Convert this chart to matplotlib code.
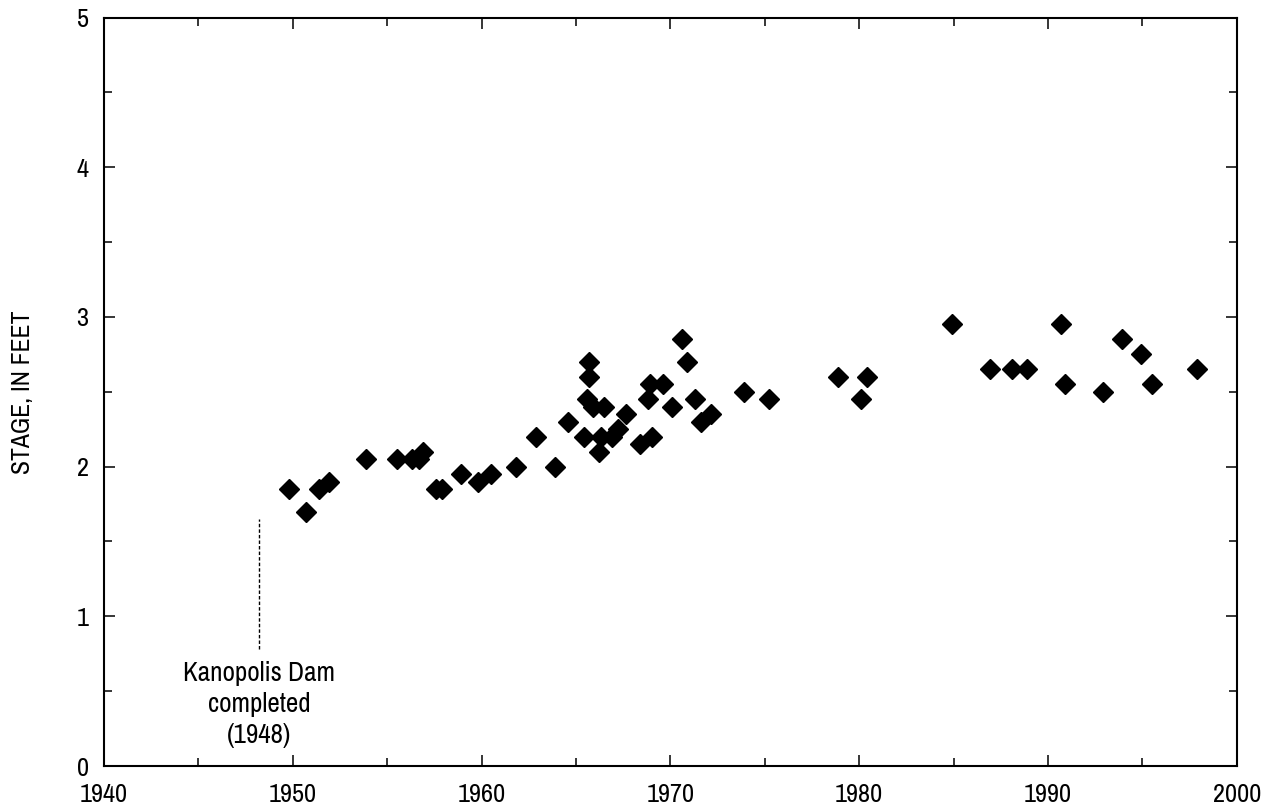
import matplotlib.pyplot as plt
from matplotlib import font_manager
from matplotlib.ticker import MultipleLocator

# Annual stage readings (year, stage in feet)
years = [1949.8, 1950.7, 1951.4, 1951.9, 1953.9, 1955.5, 1956.3, 1956.7, 1956.9,
         1957.6, 1957.9, 1958.9, 1959.8, 1960.5, 1961.8, 1962.9, 1963.9, 1964.6,
         1965.7, 1965.7, 1965.6, 1965.9, 1966.5, 1965.4, 1966.2, 1966.3, 1966.9,
         1967.2, 1967.65, 1968.4, 1969.0, 1968.8, 1968.9, 1969.6, 1970.1, 1970.6,
         1970.9, 1971.3, 1971.6, 1972.15, 1973.9, 1975.2, 1978.9, 1980.1, 1980.4,
         1984.9, 1986.9, 1988.1, 1988.9, 1990.7, 1990.9, 1992.9, 1993.9, 1994.9,
         1995.5, 1997.9]
stage = [1.85, 1.70, 1.85, 1.90, 2.05, 2.05, 2.05, 2.05, 2.10,
         1.85, 1.85, 1.95, 1.90, 1.95, 2.00, 2.20, 2.00, 2.30,
         2.70, 2.60, 2.45, 2.40, 2.40, 2.20, 2.10, 2.20, 2.20,
         2.25, 2.35, 2.15, 2.20, 2.45, 2.55, 2.55, 2.40, 2.85,
         2.70, 2.45, 2.30, 2.35, 2.50, 2.45, 2.60, 2.45, 2.60,
         2.95, 2.65, 2.65, 2.65, 2.95, 2.55, 2.50, 2.85, 2.75,
         2.55, 2.65]

dam_year = 1948.2
dam_text = "Kanopolis Dam\ncompleted\n(1948)"

# use a condensed face if one is around, otherwise DejaVu
names = sorted({f.name for f in font_manager.fontManager.ttflist})
narrow = [n for n in names if 'Narrow' in n or 'Condensed' in n]
plt.rcParams['font.family'] = narrow[:1] + ['DejaVu Sans']
tick_size = 19 if narrow else 16
text_size = 19.5 if narrow else 15
label_size = 18.5 if narrow else 15

fig = plt.figure(figsize=(12.7, 8.1), dpi=100)
ax = fig.add_axes([0.0819, 0.0543, 0.892, 0.924])

ax.plot(years, stage, linestyle='none', marker='D', ms=10, color='black')

# dam completion marker
ax.plot([dam_year, dam_year], [0.78, 1.65], color='black', linestyle=(0, (2.5, 1.5)), lw=1)
ax.text(dam_year, 0.70, dam_text, ha='center', va='top', fontsize=text_size, linespacing=1.3)

ax.set_xlim(1940, 2000)
ax.set_ylim(0, 5)
ax.xaxis.set_major_locator(MultipleLocator(10))
ax.xaxis.set_minor_locator(MultipleLocator(5))
ax.yaxis.set_major_locator(MultipleLocator(1))
ax.yaxis.set_minor_locator(MultipleLocator(0.5))
ax.tick_params(which='both', direction='in', top=True, right=True, width=1.1, labelsize=tick_size)
ax.tick_params(which='major', length=8)
ax.tick_params(which='minor', length=6)
ax.tick_params(axis='x', which='major', pad=12)
ax.tick_params(axis='y', which='major', pad=11)
for s in ax.spines.values():
    s.set_linewidth(1.5)

ax.set_ylabel('STAGE, IN FEET', fontsize=label_size)
ax.yaxis.set_label_coords(-0.062, 0.5)

fig.savefig('out.png', dpi=100)
